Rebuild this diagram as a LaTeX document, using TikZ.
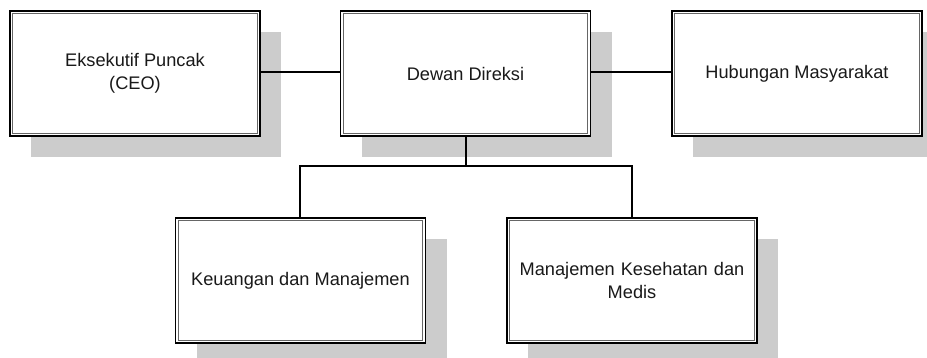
\documentclass[tikz,border=0pt]{standalone}
\usepackage{fontspec}
\setmainfont{Liberation Sans}
\usetikzlibrary{shadows}
\begin{document}
\begin{tikzpicture}[x=1pt,y=-1pt,
  orgbox/.style={draw=black, line width=1.3pt, fill=white,
    minimum width=250pt, minimum height=125pt, inner sep=0pt,
    align=center, text=black!90, font=\fontsize{18.2}{23.5}\selectfont,
    drop shadow={shadow xshift=21pt, shadow yshift=-21pt, fill=black!20, opacity=1}},
  innerline/.style={draw=black!60, line width=1pt},
  link/.style={draw=black, line width=1.2pt}]
\useasboundingbox (0,0) rectangle (927,358);
\clip (0,0) rectangle (927,358);

% top row
\node[orgbox] (ceo) at (135,73.5) {Eksekutif Puncak\\(CEO)};
\node[orgbox] (dewan) at (465.5,73.5) {Dewan Direksi};
\node[orgbox] (humas) at (797,73.5) {Hubungan Masyarakat};
% bottom row
\node[orgbox] (keu) at (300.5,280.5) {Keuangan dan Manajemen};
\node[orgbox, text width=240pt] (medis) at (632,280.5) {Manajemen Kesehatan dan\\Medis};

% inner frame lines
\foreach \n in {ceo,dewan,humas,keu,medis}
  \draw[innerline] ([xshift=3.5pt,yshift=-3.5pt]\n.north west) rectangle ([xshift=-3.5pt,yshift=3.5pt]\n.south east);

% connectors
\coordinate (bus) at (466,166);
\draw[link] (ceo.east |- 0,72) -- (dewan.west |- 0,72);
\draw[link] (dewan.east |- 0,72) -- (humas.west |- 0,72);
\draw[link] (dewan.south -| bus) -- (bus);
\draw[link] (keu.north -| 300,0) -- (300,166) -- (632,166) -- (medis.north -| 632,0);
\end{tikzpicture}
\end{document}
